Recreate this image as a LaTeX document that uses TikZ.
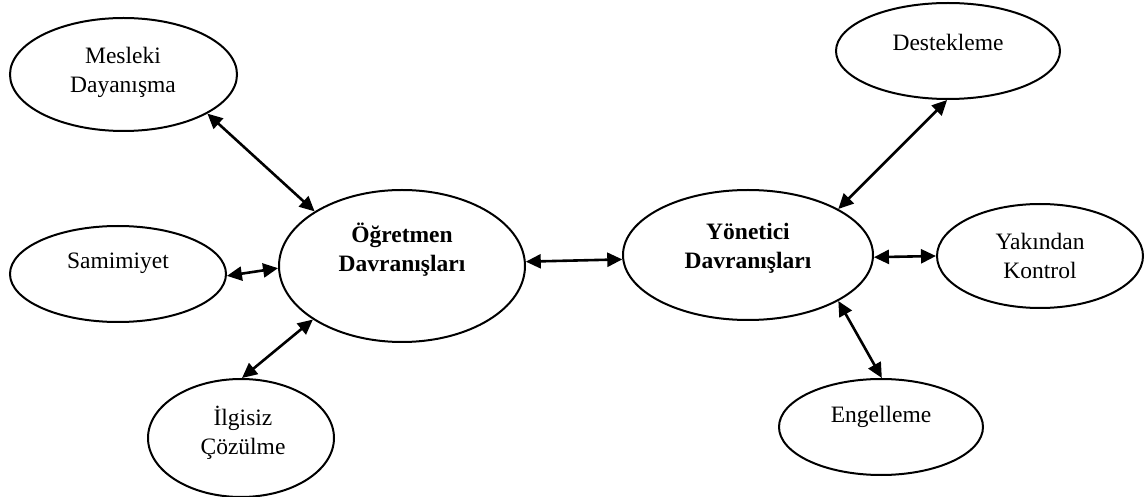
\documentclass[tikz,border=0pt]{standalone}
\usepackage{fontspec}
\setmainfont{Liberation Serif}
\usetikzlibrary{shapes.geometric,arrows.meta}
\tikzset{
  bubble/.style={draw, ellipse, line width=1pt, inner sep=0pt},
  label text/.style={align=center, font=\fontsize{11.75}{14.5}\selectfont, inner sep=0pt},
  link/.style={line width=1.3pt, {Triangle[length=7.5pt,width=7pt]}-{Triangle[length=7.5pt,width=7pt]}}
}
\begin{document}
\begin{tikzpicture}[x=0.5pt,y=-0.5pt]
\useasboundingbox (0,0) rectangle (1147,497);
% ellipses
\node[bubble, minimum width=113.5pt, minimum height=56.5pt] (mes) at (123.5,74.5) {};
\node[bubble, minimum width=108pt, minimum height=48pt] (sam) at (118,274) {};
\node[bubble, minimum width=93pt, minimum height=59pt] (ilg) at (241,438) {};
\node[bubble, minimum width=123pt, minimum height=76pt] (ogr) at (402,266) {};
\node[bubble, minimum width=125pt, minimum height=65pt] (yon) at (748,255) {};
\node[bubble, minimum width=112pt, minimum height=48pt] (des) at (948,51) {};
\node[bubble, minimum width=103pt, minimum height=52pt] (yak) at (1040,256) {};
\node[bubble, minimum width=102pt, minimum height=48pt] (eng) at (881,427) {};
% texts
\node[label text] (mes-t) at (123,72) {Mesleki\\Dayanışma};
\node[label text] (sam-t) at (118,263) {Samimiyet};
\node[label text] (ilg-t) at (243,433) {İlgisiz\\Çözülme};
\node[label text, font=\fontsize{11.75}{14.5}\selectfont\bfseries] (ogr-t) at (402,250) {Öğretmen\\Davranışları};
\node[label text, font=\fontsize{11.75}{14.5}\selectfont\bfseries] (yon-t) at (748,248) {Yönetici\\Davranışları};
\node[label text] (des-t) at (948,42) {Destekleme};
\node[label text] (yak-t) at (1040,256) {Yakından\\Kontrol};
\node[label text] (eng-t) at (881,417) {Engelleme};
% connectors
\draw[link] (mes.-25.3) -- (ogr.148.6);
\draw[link] (sam.-1) -- (ogr.181);
\draw[link] (ilg.89) -- (ogr.211.2);
\draw[link] (ogr.2.5) -- (yon.182.3);
\draw[link] (yon.27.8) -- (des.-91);
\draw[link] (yon.-1) -- (yak.180);
\draw[link] (yon.-27.8) -- (eng.89);
\end{tikzpicture}
\end{document}
